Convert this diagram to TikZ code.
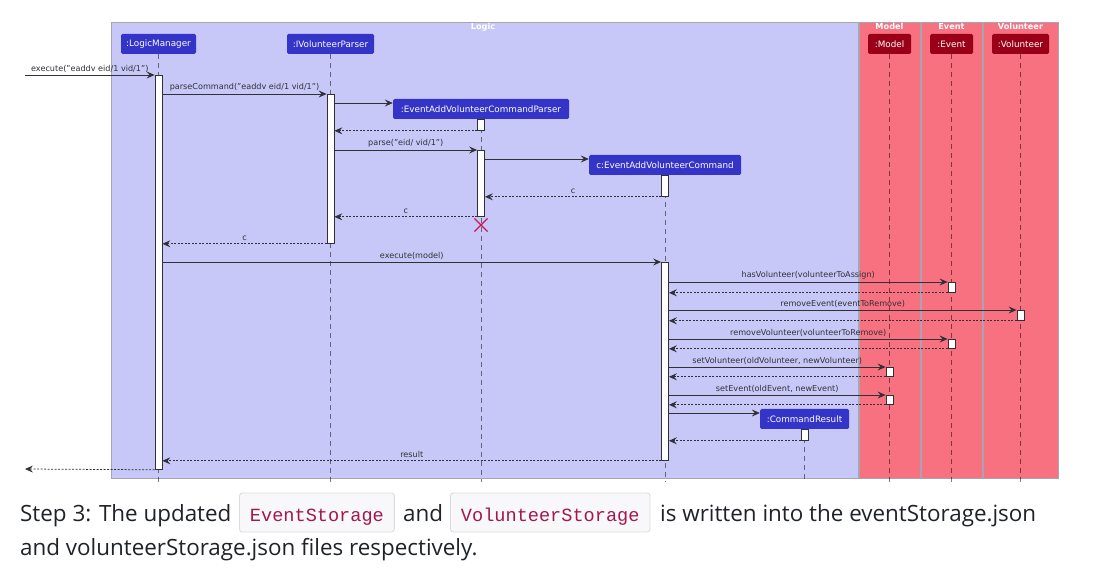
\documentclass[tikz,border=0pt]{standalone}
\usepackage{fontspec,xcolor,tikz}
\usetikzlibrary{arrows.meta,shapes.misc}
\setmainfont{DejaVu Sans}
\newfontfamily\prosefont{Open Sans}
\newfontfamily\codefont{Liberation Mono}
\definecolor{ink}{HTML}{303036}
\definecolor{logicbg}{HTML}{C8C8F8}
\definecolor{storebg}{HTML}{F87181}
\definecolor{framegrey}{HTML}{A6A6B0}
\definecolor{partblue}{HTML}{3434C8}
\definecolor{partred}{HTML}{9A0018}
\definecolor{killred}{HTML}{C8184E}
\definecolor{codeink}{HTML}{A3174F}
\definecolor{codebg}{HTML}{F8F8FA}
\definecolor{codeline}{HTML}{DCDCE0}
\definecolor{proseink}{HTML}{1F2328}
\newcommand{\msgfont}{\fontsize{8.1}{10}\selectfont}
\newcommand{\partfont}{\fontsize{8.8}{10}\selectfont}

\begin{document}
\begin{tikzpicture}[x=1pt,y=-1pt,
  frame/.style={draw=framegrey,line width=0.8pt},
  frametitle/.style={anchor=north,inner sep=0,font=\bfseries\fontsize{8.2}{10}\selectfont,text=white},
  part/.style={fill=partblue,text=white,rounded corners=1.5pt,font=\partfont,minimum height=20pt,inner sep=0},
  storepart/.style={part,fill=partred},
  life/.style={draw=black,draw opacity=0.5,line width=0.6pt,dash pattern=on 5pt off 4pt},
  bar/.style={draw=ink,fill=white,line width=0.8pt,minimum width=7pt,inner sep=0,anchor=north},
  msg/.style={draw=ink,line width=0.75pt,-{Stealth[length=8pt,width=7pt,inset=3pt]}},
  ret/.style={msg,dash pattern=on 2pt off 1.5pt},
  lbl/.style={above=2.5pt,inner sep=0,font=\msgfont,text=ink},
  kill/.style={draw=killred,line width=1.1pt,cross out,minimum size=12pt,inner sep=0},
  prose/.style={anchor=base west,inner sep=0,font=\prosefont\fontsize{22.4}{28}\selectfont,text=proseink},
  code/.style={anchor=base west,draw=codeline,fill=codebg,line width=0.9pt,rounded corners=3pt,
    font=\codefont\fontsize{18.6}{22}\selectfont,text=codeink,inner xsep=10.5pt,inner ysep=0,
    text height=28pt,text depth=11pt}]
\fill[white] (0,0) rectangle (1096,569);
\useasboundingbox (0,0) rectangle (1096,569);
\draw[frame,fill=logicbg] (111,22) rectangle (858,478);
\foreach \l/\r in {859/920,921/982,983/1058}
  \draw[frame,fill=storebg] (\l,22) rectangle (\r,478);
\node[frametitle] (tlogic) at (483,23) {Logic};
\node[frametitle] (tmodel) at (889.5,23) {Model};
\node[frametitle] (tevent) at (951.5,23) {Event};
\node[frametitle] (tvol) at (1020.5,23) {Volunteer};
\node[part,minimum width=75pt] (lm) at (158.5,44) {:LogicManager};
\node[part,minimum width=87pt] (ip) at (330.5,44) {:IVolunteerParser};
\node[part,minimum width=176pt] (cp) at (481,109) {:EventAddVolunteerCommandParser};
\node[part,minimum width=152pt] (cmd) at (665,165) {c:EventAddVolunteerCommand};
\node[part,minimum width=89pt] (res) at (804.5,419) {:CommandResult};
\node[storepart,minimum width=43pt] (mo) at (889.5,44) {:Model};
\node[storepart,minimum width=43pt] (ev) at (951.5,44) {:Event};
\node[storepart,minimum width=57pt] (vo) at (1020.5,44) {:Volunteer};
\foreach \p in {lm,ip,cp,cmd,res,mo,ev,vo}
  \draw[life] (\p.south) -- (\p.south |- 0,482);
\foreach \n/\p/\ya/\yb in {alm/lm/75/469,aip/ip/94/243,acp/cp/119/130,acq/cp/150/216,
  acmd/cmd/175/196,acme/cmd/262/460,aev/ev/282/292,avo/vo/310/320,aew/ev/339/348,
  amo/mo/367/376,amp/mo/395/404,ares/res/429/440}
  \node[bar,minimum height={(\yb-\ya)*1pt}] (\n) at (\p.south |- 0,\ya) {};
\coordinate (gin) at (25,75);
\coordinate (gout) at (25,469);
\draw[msg] (gin) -- (alm.north west) node[lbl,midway] {execute("eaddv eid/1 vid/1")};
\draw[msg] (alm.east |- aip.north) -- (aip.north west) node[lbl,midway] {parseCommand("eaddv eid/1 vid/1")};
\draw[msg] (aip.east |- 0,103) -- (cp.west |- 0,103);
\draw[ret] (acp.south west) -- (acp.south west -| aip.east);
\draw[msg] (aip.east |- acq.north) -- (acq.north west) node[lbl,midway] {parse("eid/ vid/1")};
\draw[msg] (acq.east |- 0,159) -- (cmd.west |- 0,159);
\draw[ret] (acmd.south west) -- (acmd.south west -| acq.east) node[lbl,midway] {c};
\draw[ret] (acq.south west) -- (acq.south west -| aip.east) node[lbl,midway] {c};
\node[kill] (x) at (481,225) {};
\draw[ret] (aip.south west) -- (aip.south west -| alm.east) node[lbl,midway] {c};
\draw[msg] (alm.east |- acme.north) -- (acme.north west) node[lbl,midway] {execute(model)};
\foreach \a/\m in {aev/hasVolunteer(volunteerToAssign),avo/removeEvent(eventToRemove),
  aew/removeVolunteer(volunteerToRemove),amo/{setVolunteer(oldVolunteer, newVolunteer)},
  amp/{setEvent(oldEvent, newEvent)}}{
  \draw[msg] (acme.east |- \a.north) -- (\a.north west) node[lbl,midway] {\m};
  \draw[ret] (\a.south west) -- (\a.south west -| acme.east);
}
\draw[msg] (acme.east |- 0,413) -- (res.west |- 0,413);
\draw[ret] (ares.south west) -- (ares.south west -| acme.east);
\draw[ret] (acme.south west) -- (acme.south west -| alm.east) node[lbl,midway] {result};
\draw[ret] (alm.south west) -- (gout);
\node[prose] (s1) at (20,521) {Step 3: The updated};
\node[code] (c1) at (239,521) {EventStorage};
\node[prose] (s2) at (403,521) {and};
\node[code] (c2) at (450,521) {VolunteerStorage};
\node[prose] (s3) at (660,521) {is written into the eventStorage.json};
\node[prose] (s4) at (20,555) {and volunteerStorage.json files respectively.};
\end{tikzpicture}
\end{document}
